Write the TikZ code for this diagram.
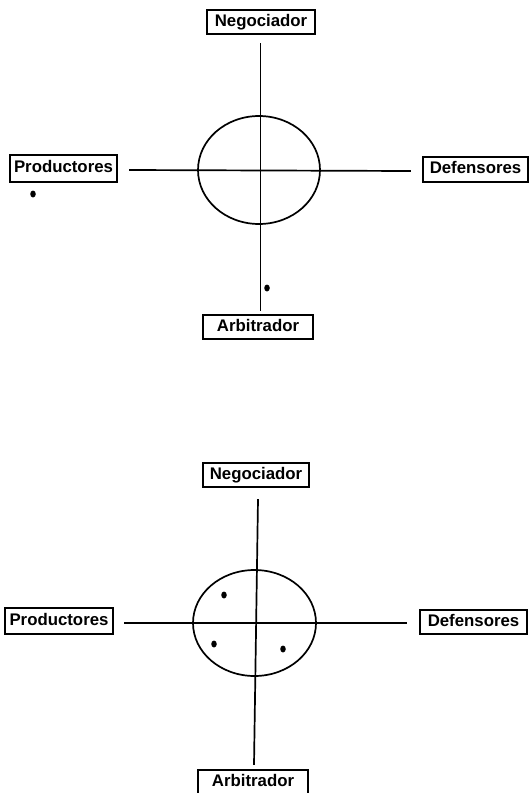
\documentclass[tikz,border=0pt]{standalone}
\usepackage{fontspec}
\setmainfont{Liberation Sans}
\usetikzlibrary{shapes.geometric}
\tikzset{
  lbl/.style={draw, line width=2.4pt, inner sep=0pt, font=\fontsize{16.8}{18}\selectfont\bfseries, text height=12pt, text depth=3.5pt},
  axis/.style={line width=1.7pt},
  circ/.style={draw, ellipse, line width=1.7pt, inner sep=0pt},
  pt/.style={fill, ellipse, inner sep=0pt, minimum width=5.5pt, minimum height=7pt}
}
\begin{document}
\begin{tikzpicture}[x=1pt,y=-1pt]
\useasboundingbox (0,0) rectangle (530,793);
% top diagram
\node[lbl, minimum width=108pt, minimum height=24pt] (neg1) at (261,22) {Negociador};
\node[lbl, minimum width=107pt, minimum height=27pt] (pro1) at (63.5,168.5) {Productores};
\node[lbl, minimum width=105pt, minimum height=25pt] (def1) at (475.5,169.5) {Defensores};
\node[lbl, minimum width=110pt, minimum height=24pt] (arb1) at (258,327) {Arbitrador};
\node[circ, minimum width=122pt, minimum height=108pt] (ell1) at (259,170) {};
\draw[axis] ([xshift=-0.5pt,yshift=-8pt]neg1.south) -- ([xshift=2.5pt,yshift=3pt]arb1.north);
\draw[axis] ([xshift=11pt,yshift=-1.5pt]pro1.east) -- ([xshift=-11pt,yshift=-1.5pt]def1.west);
\node[pt] (d1) at (33,194) {};
\node[pt] (d2) at (267,288) {};
% bottom diagram
\node[lbl, minimum width=106pt, minimum height=24pt] (neg2) at (256,475) {Negociador};
\node[lbl, minimum width=108pt, minimum height=26pt] (pro2) at (59,621) {Productores};
\node[lbl, minimum width=107pt, minimum height=24pt] (def2) at (473.5,622) {Defensores};
\node[lbl, minimum width=110pt, minimum height=24pt] (arb2) at (253,782) {Arbitrador};
\node[circ, minimum width=123pt, minimum height=106pt] (ell2) at (254.5,623) {};
\draw[axis] ([xshift=2pt,yshift=-11pt]neg2.south) -- ([xshift=1pt,yshift=4pt]arb2.north);
\draw[axis] ([xshift=10pt,yshift=-2pt]pro2.east) -- ([xshift=-12pt,yshift=-1pt]def2.west);
\node[pt] (d3) at (224,595) {};
\node[pt] (d4) at (214,644) {};
\node[pt] (d5) at (283,649) {};
\end{tikzpicture}
\end{document}
